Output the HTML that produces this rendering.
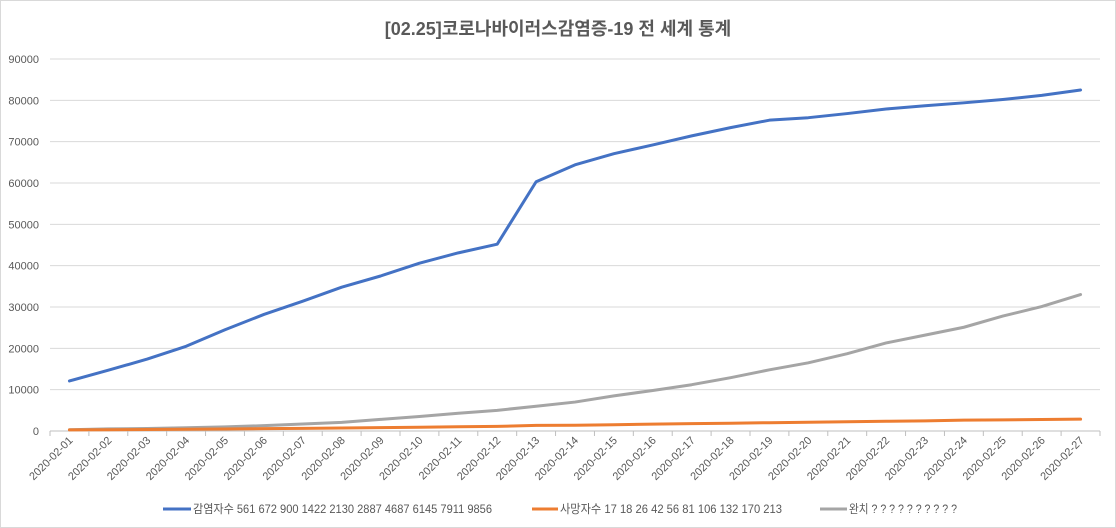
<!DOCTYPE html>
<html><head><meta charset="utf-8"><style>
body{margin:0;background:#fff;}
svg{display:block;font-family:"Liberation Sans","Noto Sans CJK KR",sans-serif;}
</style></head><body>
<svg id="c" width="1116" height="528">
<rect x="0.5" y="0.5" width="1115" height="527" fill="#fff" stroke="#d9d9d9"/>
<text x="558" y="35" text-anchor="middle" font-size="18" font-weight="bold" fill="#595959">[02.25]코로나바이러스감염증-19 전 세계 통계</text>
<g id="grid"></g><g id="series"></g><g id="xl"></g>
<g font-size="12" fill="#595959">
<g><line x1="163" y1="509" x2="191" y2="509" stroke="#4472c4" stroke-width="3"/><text x="193" y="513" textLength="299" lengthAdjust="spacingAndGlyphs">감염자수 561 672 900 1422 2130 2887 4687 6145 7911 9856</text></g>
<g><line x1="532" y1="509" x2="558" y2="509" stroke="#ed7d31" stroke-width="3"/><text x="560" y="513" textLength="222" lengthAdjust="spacingAndGlyphs">사망자수 17 18 26 42 56 81 106 132 170 213</text></g>
<g><line x1="820" y1="509" x2="847" y2="509" stroke="#a5a5a5" stroke-width="3"/><text x="849" y="513" textLength="108" lengthAdjust="spacingAndGlyphs">완치 ? ? ? ? ? ? ? ? ? ?</text></g>
</g>
</svg>
<script>
const categories=[];for(let d=1;d<=27;d++)categories.push('2020-02-'+String(d).padStart(2,'0'));
const infected=[12100,14700,17400,20500,24500,28200,31400,34800,37500,40600,43100,45200,60300,64400,67100,69200,71400,73400,75200,75800,76800,77900,78700,79400,80200,81200,82500];
const deaths=[260,300,360,430,490,560,640,720,810,910,1020,1110,1360,1380,1520,1660,1770,1870,2010,2120,2240,2360,2460,2620,2700,2770,2860];
const recovered=[300,500,600,800,1000,1300,1700,2100,2800,3500,4300,5000,6000,7000,8500,9800,11200,12900,14800,16500,18700,21300,23200,25100,27800,30100,33000];
const yTicks=[0,10000,20000,30000,40000,50000,60000,70000,80000,90000];
const ns='http://www.w3.org/2000/svg';
const X0=50,X1=1100,Y0=431,Y1=59,YMAX=90000;
const bw=(X1-X0)/categories.length;
const xs=i=>X0+bw*(i+0.5);
const ys=v=>Y0-(v/YMAX)*(Y0-Y1);
function mk(t,a,p){const e=document.createElementNS(ns,t);for(const k in a)e.setAttribute(k,a[k]);p.appendChild(e);return e;}
const g=document.getElementById('grid');
yTicks.forEach(v=>{
 const l=mk('line',{x1:X0,x2:X1,y1:ys(v),y2:ys(v),stroke:v===0?'#bfbfbf':'#d9d9d9'},g);
 
 
 const t=mk('text',{x:39,y:ys(v)+4,'text-anchor':'end','font-size':11,fill:'#595959'},g);
 t.textContent=v;
 
 
});
const xl=document.getElementById('xl');
categories.forEach((c,i)=>{
 const tk=mk('line',{x1:X0+bw*i,x2:X0+bw*i,y1:Y0,y2:Y0+5,stroke:'#bfbfbf'},xl);
 
 
 const x=xs(i)+4,y=Y0+10;
 const t=mk('text',{x:x,y:y,'text-anchor':'end','font-size':11,fill:'#595959',transform:`rotate(-45 ${x} ${y})`},xl);
 t.textContent=c;
 
 
});
mk('line',{x1:X1,x2:X1,y1:Y0,y2:Y0+5,stroke:'#bfbfbf'},xl);
const sg=document.getElementById('series');
[[recovered,'#a5a5a5','line-recovered'],[deaths,'#ed7d31','line-deaths'],[infected,'#4472c4','line-infected']].forEach(([d,col,n])=>{
 const p=mk('polyline',{points:d.map((v,i)=>xs(i)+','+ys(v)).join(' '),fill:'none',stroke:col,'stroke-width':3,'stroke-linejoin':'round','stroke-linecap':'round'},sg);
 
 
});
</script>
</body></html>
